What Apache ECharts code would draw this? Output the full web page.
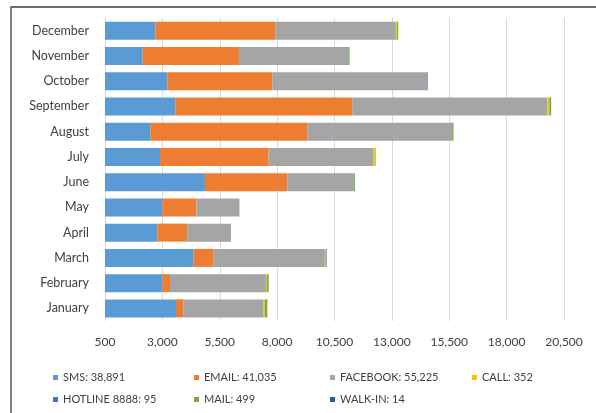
<!DOCTYPE html>
<html>
<head>
<meta charset="utf-8">
<script src="https://cdn.jsdelivr.net/npm/echarts@6/dist/echarts.min.js"></script>
<style>html,body{margin:0;padding:0;background:#fff;}#c{width:596px;height:413px;}</style>
</head>
<body>
<div id="c"></div>
<script>
var months = ['January','February','March','April','May','June','July','August','September','October','November','December'];
var seriesNames = ['SMS: 38,891','EMAIL: 41,035','FACEBOOK: 55,225','CALL: 352','HOTLINE 8888: 95','MAIL: 499','WALK-IN: 14'];
var sms      = [3592, 2996, 4363, 2778, 2996, 4855, 2895, 2473, 3562, 3214, 2142, 2691];
var email    = [336, 335, 871, 1307, 1481, 3585, 4735, 6838, 7709, 4573, 4194, 5227];
var facebook = [3484, 4181, 4848, 1890, 1859, 2892, 4573, 6315, 8510, 6737, 4761, 5256];
var call     = [57, 45, 40, 0, 0, 0, 80, 0, 80, 0, 0, 50];
var hotline  = [0, 0, 35, 15, 15, 0, 0, 0, 0, 30, 0, 0];
var mail     = [99, 70, 0, 0, 0, 60, 20, 60, 80, 0, 60, 50];
var walkin   = [4, 4, 0, 0, 0, 0, 0, 0, 0, 6, 0, 0];
var xTicks = [500, 3000, 5500, 8000, 10500, 13000, 15500, 18000, 20500];

var colors = ['#5B9BD5','#ED7D31','#A5A5A5','#FFC000','#4472C4','#70AD47','#255E91'];
var values = [sms, email, facebook, call, hotline, mail, walkin];
var font = 'Lato, "Open Sans", sans-serif';

var chart = echarts.init(document.getElementById('c'), null, {renderer: 'canvas'});
var series = values.map(function (v, i) {
  return {
    name: seriesNames[i], type: 'bar', stack: 'total', data: v,
    barWidth: 18, itemStyle: {color: colors[i]}, emphasis: {disabled: true}
  };
});
var legendCols = [53, 194, 330, 472];
var legends = seriesNames.map(function (n, i) {
  var row = i < 4 ? 0 : 1;
  var col = i < 4 ? i : i - 4;
  return {
    data: [n], left: legendCols[col], top: row === 0 ? 372 : 394,
    icon: 'rect', itemWidth: 5, itemHeight: 5, itemGap: 0,
    textStyle: {color: '#404040', fontSize: 11, fontFamily: font},
    selectedMode: false, padding: 0
  };
});
chart.setOption({
  animation: false,
  color: colors,
  grid: {left: 105, right: 32, top: 18, bottom: 92, containLabel: false},
  xAxis: {
    type: 'value', min: xTicks[0], max: xTicks[xTicks.length - 1], interval: xTicks[1] - xTicks[0],
    axisLine: {show: false}, axisTick: {show: false},
    splitLine: {show: true, lineStyle: {color: '#d9d9d9', width: 1}},
    axisLabel: {color: '#404040', fontSize: 12, fontFamily: font, margin: 15,
      formatter: function (v) { return v.toLocaleString('en-US'); }}
  },
  yAxis: {
    type: 'category', data: months,
    axisLine: {show: false}, axisTick: {show: false}, splitLine: {show: false},
    axisLabel: {color: '#404040', fontSize: 12.5, fontFamily: font, margin: 16}
  },
  legend: legends,
  graphic: [{
    type: 'rect', silent: true, z: 100,
    shape: {x: 11, y: 7, width: 800, height: 600},
    style: {fill: 'none', stroke: '#404040', lineWidth: 1.3}
  }],
  series: series
});
</script>
</body>
</html>
